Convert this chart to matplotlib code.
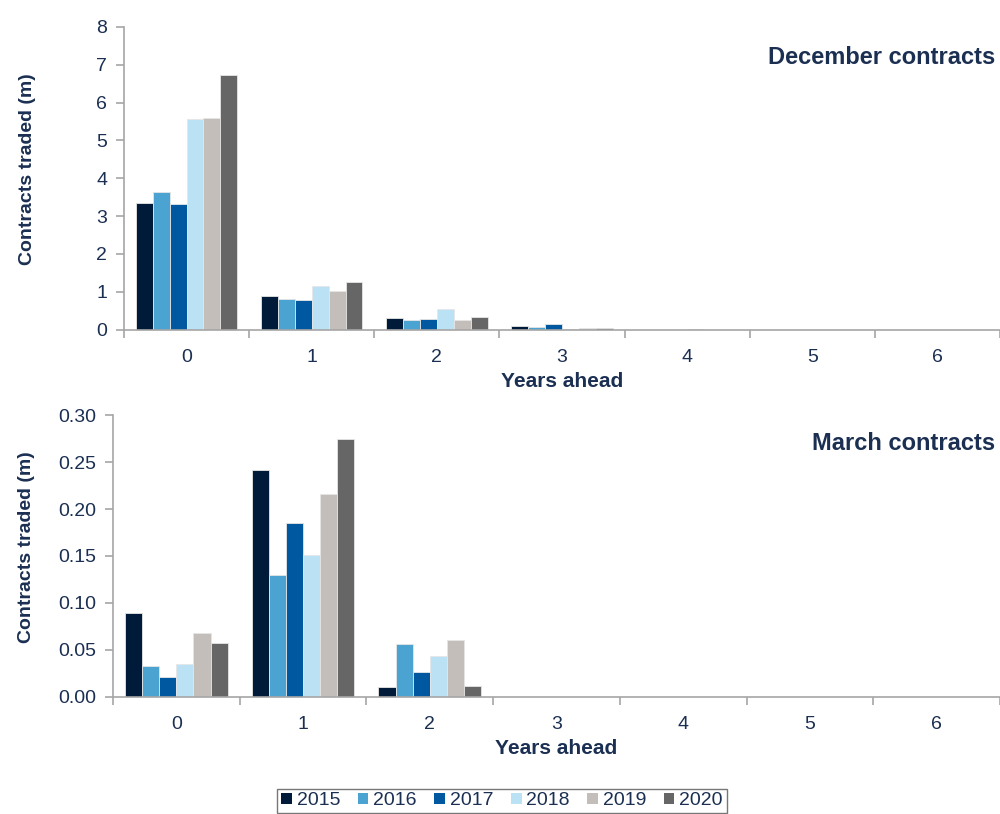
import numpy as np
import matplotlib
matplotlib.use("Agg")
import matplotlib.pyplot as plt
from matplotlib.patches import Patch

plt.rcParams['font.family'] = ['Liberation Sans', 'DejaVu Sans']

# data
years_ahead = [0, 1, 2, 3, 4, 5, 6]
series = ['2015', '2016', '2017', '2018', '2019', '2020']
colours = ['#001a3a', '#4aa3d0', '#0058a0', '#bae1f4', '#c4bebb', '#666666']

december = {
    '2015': [3.35, 0.90, 0.32, 0.11, 0.0, 0.0, 0.0],
    '2016': [3.65, 0.80, 0.25, 0.06, 0.0, 0.0, 0.0],
    '2017': [3.33, 0.79, 0.29, 0.15, 0.0, 0.0, 0.0],
    '2018': [5.57, 1.15, 0.55, 0.03, 0.01, 0.0, 0.0],
    '2019': [5.58, 1.03, 0.25, 0.04, 0.0, 0.0, 0.0],
    '2020': [6.73, 1.26, 0.33, 0.05, 0.0, 0.0, 0.0],
}
march = {
    '2015': [0.0895, 0.242, 0.0107, 0, 0, 0, 0],
    '2016': [0.033, 0.130, 0.0558, 0, 0, 0, 0],
    '2017': [0.021, 0.185, 0.026, 0, 0, 0, 0],
    '2018': [0.0345, 0.151, 0.0434, 0, 0, 0, 0],
    '2019': [0.068, 0.216, 0.061, 0, 0, 0, 0],
    '2020': [0.0576, 0.275, 0.0117, 0, 0, 0, 0],
}

text_col = '#1b2f52'
axis_col = '#a6a6a6'
bar_w = 0.135


def draw_panel(ax, data, ymax, ystep, yfmt, title):
    x = np.arange(len(years_ahead))
    for i, s in enumerate(series):
        offset = (i - 2.5) * bar_w
        ax.bar(x + offset, data[s], width=bar_w, color=colours[i],
               edgecolor='#e6e6e6', linewidth=0.6)
    ax.set_xlim(-0.5, len(years_ahead) - 0.5)
    ax.set_ylim(0, ymax)
    ax.set_yticks(np.arange(0, ymax + ystep / 2, ystep))
    ax.set_yticklabels([yfmt.format(v) for v in np.arange(0, ymax + ystep / 2, ystep)])
    ax.set_xticks(x)
    ax.set_xticklabels([str(v) for v in years_ahead])
    ax.set_xticks(np.arange(-0.5, len(years_ahead)), minor=True)
    ax.tick_params(axis='x', which='major', length=0, pad=14)
    ax.tick_params(axis='x', which='minor', length=6, color=axis_col, width=1.2)
    ax.tick_params(axis='y', length=6, color=axis_col, width=1.2, pad=6)
    ax.tick_params(labelsize=14, labelcolor=text_col)
    for side in ['top', 'right']:
        ax.spines[side].set_visible(False)
    for side in ['left', 'bottom']:
        ax.spines[side].set_color(axis_col)
        ax.spines[side].set_linewidth(1.2)
    ax.set_xlabel('Years ahead', fontsize=15, fontweight='bold', color=text_col, labelpad=4)
    ax.set_ylabel('Contracts traded (m)', fontsize=14, fontweight='bold', color=text_col)
    ax.text(0.995, 0.9, title, transform=ax.transAxes, ha='right', va='center',
            fontsize=17, fontweight='bold', color=text_col)


fig = plt.figure(figsize=(10, 8.14), dpi=100)
ax1 = fig.add_axes([0.124, 0.595, 0.876, 0.372])
ax2 = fig.add_axes([0.113, 0.144, 0.887, 0.346])

draw_panel(ax1, december, 8, 1, '{:.0f}', 'December contracts')
draw_panel(ax2, march, 0.30, 0.05, '{:.2f}', 'March contracts')
ax1.yaxis.set_label_coords(-0.1, 0.53)
ax2.yaxis.set_label_coords(-0.088, 0.53)

handles = [Patch(facecolor=c, edgecolor='none') for c in colours]
leg = fig.legend(handles, series, loc='center', bbox_to_anchor=(0.502, 0.016),
                 ncol=6, frameon=True, fontsize=14, handlelength=0.55, handleheight=0.55,
                 handletextpad=0.25, columnspacing=0.9, borderpad=0.2, fancybox=False)
leg.get_frame().set_edgecolor('#555555')
leg.get_frame().set_linewidth(1.0)
for t in leg.get_texts():
    t.set_color(text_col)

fig.savefig('out.png', dpi=100)
